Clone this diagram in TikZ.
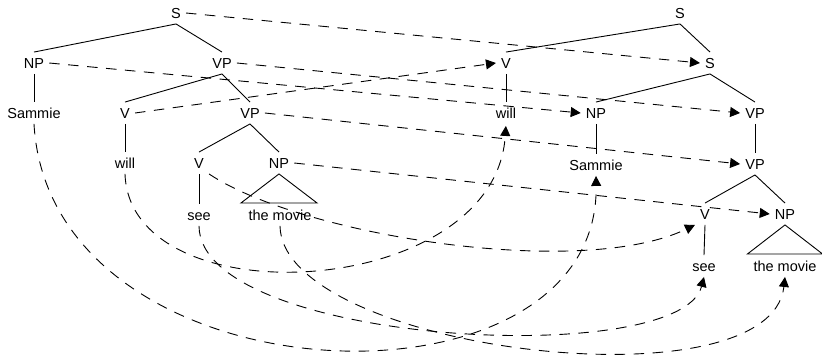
\documentclass[tikz,border=0pt]{standalone}
\usepackage{fontspec}
\setmainfont{Liberation Sans}
\usetikzlibrary{arrows.meta}
\begin{document}
\begin{tikzpicture}[x=1pt,y=-1pt,
  lbl/.style={font=\fontsize{14.5}{17}\selectfont, inner xsep=5pt, inner ysep=5.5pt,
              text height=10.5pt, text depth=0pt},
  branch/.style={draw=black, line width=0.9pt},
  move/.style={draw=black, line width=0.9pt, dash pattern=on 10.5pt off 8.5pt,
               -{Triangle[length=10pt,width=10pt]}},
]
\useasboundingbox (0,0) rectangle (822,354);

% ---- deep structure (left tree) ----
\node[lbl] (sL)      at (176,13)  {S};
\node[lbl] (npL)     at (34,63)   {NP};
\node[lbl] (vpL)     at (222,63)  {VP};
\node[lbl] (sammieL) at (34,113)  {Sammie};
\node[lbl] (vL)      at (125,113) {V};
\node[lbl] (vpbL)    at (250,113) {VP};
\node[lbl] (willL)   at (125,163) {will};
\node[lbl] (vbL)     at (199,163) {V};
\node[lbl] (npbL)    at (279,163) {NP};
\node[lbl] (seeL)    at (199,215) {see};
\node[lbl] (movieL)  at (280,215) {the movie};

\draw[branch] (sL.south) -- (npL.north);
\draw[branch] (sL.south) -- (vpL.north);
\draw[branch] (npL.south) -- (sammieL.north);
\draw[branch] (vpL.south) -- (vL.north);
\draw[branch] (vpL.south) -- (vpbL.north);
\draw[branch] (vL.south) -- (willL.north);
\draw[branch] (vpbL.south) -- (vbL.north);
\draw[branch] (vpbL.south) -- (npbL.north);
\draw[branch] (vbL.south) -- (seeL.north);
\draw[branch] (npbL.south) -- ++(-38,29) -- ++(76,0) -- cycle;

% ---- surface structure (right tree) ----
\node[lbl] (sTopR)   at (680,13)  {S};
\node[lbl] (vR)      at (506,63)  {V};
\node[lbl] (sR)      at (710,63)  {S};
\node[lbl] (willR)   at (506,113) {will};
\node[lbl] (npR)     at (596,113) {NP};
\node[lbl] (vpR)     at (755,113) {VP};
\node[lbl] (sammieR) at (596,165) {Sammie};
\node[lbl] (vpbR)    at (755,164) {VP};
\node[lbl] (vbR)     at (705,214) {V};
\node[lbl] (npbR)    at (785,214) {NP};
\node[lbl] (seeR)    at (704,266) {see};
\node[lbl] (movieR)  at (785,266) {the movie};

\draw[branch] (sTopR.south) -- (vR.north);
\draw[branch] (sTopR.south) -- (sR.north);
\draw[branch] (vR.south) -- (willR.north);
\draw[branch] (sR.south) -- (npR.north);
\draw[branch] (sR.south) -- (vpR.north);
\draw[branch] (npR.south) -- (sammieR.north);
\draw[branch] (vpR.south) -- (vpbR.north);
\draw[branch] (vpbR.south) -- (vbR.north);
\draw[branch] (vpbR.south) -- (npbR.north);
\draw[branch] (vbR.south) -- (seeR.north);
\draw[branch] (npbR.south) -- ++(-37.5,29) -- ++(75,0) -- cycle;

% ---- correspondences between the two trees ----
\draw[move] (sL.east)   -- (sR.west);
\draw[move] (npL.east)  -- (npR.west);
\draw[move] (vpL.east)  -- (vpR.west);
\draw[move] (vL.east)   -- (vR.west);
\draw[move] (vpbL.east) -- (vpbR.west);
\draw[move] (npbL.east) -- (npbR.west);

\draw[move] (sammieL.south) .. controls (50,405) and (600,425) .. (sammieR.south);
\draw[move, shorten >=2pt] (willL.south) .. controls (130,320) and (495,300) .. (willR.south);
\draw[move] (vbL.south east) .. controls (300,235) and (580,280) .. (vbR.south west);
\draw[move] (seeL.south) .. controls (200,345) and (680,370) .. (seeR.south);
\draw[move] (movieL.south) .. controls (282,350) and (770,410) .. (movieR.south);
\end{tikzpicture}
\end{document}
